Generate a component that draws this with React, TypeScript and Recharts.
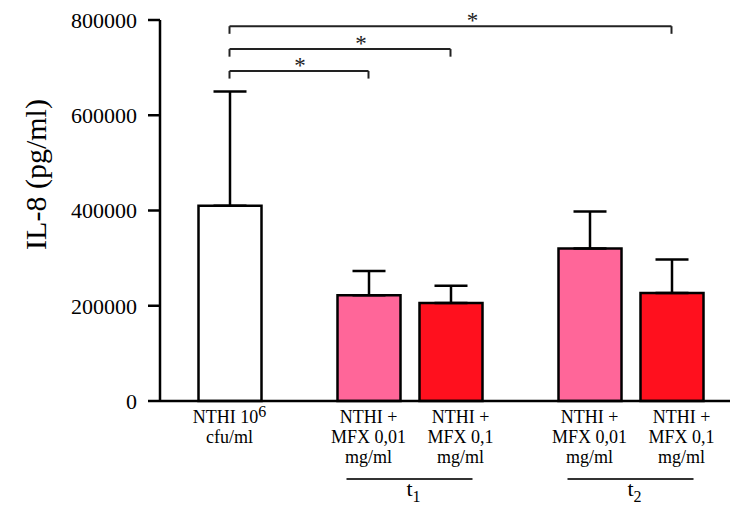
import React from "react";
import {
  BarChart,
  Bar,
  XAxis,
  YAxis,
  ErrorBar,
  Cell,
  ReferenceLine,
  ReferenceDot,
} from "recharts";

// IL-8 release, mean + SD per condition
const labelLines = [
  ["NTHI 10^6", "cfu/ml"],
  ["NTHI +", "MFX 0,01", "mg/ml"],
  ["NTHI +", "MFX 0,1", "mg/ml"],
  ["NTHI +", "MFX 0,01", "mg/ml"],
  ["NTHI +", "MFX 0,1", "mg/ml"],
];
const timePoint = ["", "t1", "t1", "t2", "t2"];
const il8Mean = [410000, 222000, 206000, 320000, 227000];
const il8Sd = [240000, 51000, 36000, 78000, 70000];
const yTicks = [0, 200000, 400000, 600000, 800000];
// significant comparisons against the control bar
const comparisons = [
  [0, 4],
  [0, 2],
  [0, 1],
];

const barFills = ["#ffffff", "#ff6699", "#ff101e", "#ff6699", "#ff101e"];
const FONT = "'Liberation Serif', 'Times New Roman', serif";

// spacing on the x axis (1 unit = 1px with the domain below)
const WITHIN_STEP = 82;
const BETWEEN_STEP = 139;
const positions = timePoint.reduce<number[]>((acc, tp, i) => {
  if (i === 0) return [0];
  const prev = acc[i - 1];
  return [...acc, prev + (tp === timePoint[i - 1] ? WITHIN_STEP : BETWEEN_STEP)];
}, []);

const rows = positions.map((pos, i) => ({
  pos,
  mean: il8Mean[i],
  err: [0, il8Sd[i]],
}));

// bracket heights and asterisk nudges
const BRACKET_Y = [787000, 739000, 693000];
const BRACKET_TIP = 16000;
const STAR_DX = [22, 21, 1];

const ConditionTick = ({ x, y, payload }: any) => {
  const i = positions.indexOf(payload.value);
  if (i < 0) return null;
  const sameGroupAsPrev = i > 0 && timePoint[i] === timePoint[i - 1];
  const cx = x + (sameGroupAsPrev ? 10 : 0);
  const startsGroup = timePoint[i] !== "" && !sameGroupAsPrev;
  const gc = x + WITHIN_STEP / 2;
  return (
    <g>
      <text textAnchor="middle" fontFamily={FONT} fontSize={18} fill="#000">
        {labelLines[i].map((line, k) => {
          const [main, sup] = line.split("^");
          return (
            <tspan key={k} x={cx} y={y + 22 + k * 20}>
              {main}
              {sup && (
                <tspan dy={-6} fontSize={16}>
                  {sup}
                </tspan>
              )}
            </tspan>
          );
        })}
      </text>
      {startsGroup && (
        <g>
          <line
            x1={gc - 63}
            x2={gc + 63}
            y1={y + 78}
            y2={y + 78}
            stroke="#333"
            strokeWidth={1.8}
          />
          <text
            x={gc + 4}
            y={y + 95}
            textAnchor="middle"
            fontFamily={FONT}
            fontSize={22}
            fill="#000"
          >
            {timePoint[i].charAt(0)}
            <tspan dy={6} fontSize={16}>
              {timePoint[i].slice(1)}
            </tspan>
          </text>
        </g>
      )}
    </g>
  );
};

const YLabel = ({ viewBox }: any) => {
  const cx = viewBox.x + 35;
  const cy = viewBox.y + viewBox.height / 2 - 36;
  return (
    <text
      x={cx}
      y={cy}
      transform={`rotate(-90 ${cx} ${cy})`}
      textAnchor="middle"
      dominantBaseline="central"
      fontFamily={FONT}
      fontSize={30}
      fill="#000"
    >
      IL-8 (pg/ml)
    </text>
  );
};

const Star = ({ cx, cy }: any) => (
  <text
    x={cx}
    y={cy + 11}
    textAnchor="middle"
    fontFamily={FONT}
    fontSize={23}
    fill="#222"
  >
    *
  </text>
);

export default function App() {
  return (
    <div style={{ position: "absolute", left: 0, top: 0, background: "#fff" }}>
      <BarChart
        width={733}
        height={507}
        data={rows}
        margin={{ top: 20, right: 3, bottom: 0, left: 0 }}
      >
        <XAxis
          type="number"
          dataKey="pos"
          domain={[-69.5, 500.5]}
          ticks={positions}
          interval={0}
          height={106}
          tickLine={false}
          tickSize={0}
          tickMargin={0}
          axisLine={{ stroke: "#000", strokeWidth: 2.5 }}
          tick={<ConditionTick />}
        />
        <YAxis
          domain={[0, 800000]}
          ticks={yTicks}
          interval={0}
          width={160}
          tickSize={12}
          tickMargin={11}
          axisLine={{ stroke: "#000", strokeWidth: 2.5 }}
          tickLine={{ stroke: "#000", strokeWidth: 2.5 }}
          tick={{ fontSize: 22, fill: "#000", fontFamily: FONT }}
          label={{ content: <YLabel /> }}
        />
        <Bar
          dataKey="mean"
          barSize={63}
          stroke="#000"
          strokeWidth={2.5}
          isAnimationActive={false}
        >
          {rows.map((_, i) => (
            <Cell key={`cell-${i}`} fill={barFills[i]} />
          ))}
          <ErrorBar
            dataKey="err"
            width={16.5}
            stroke="#000"
            strokeWidth={2.5}
            direction="y"
            isAnimationActive={false}
          />
        </Bar>
        {comparisons.map(([a, b], k) => {
          const yTop = BRACKET_Y[k];
          const xa = positions[a];
          const xb = positions[b];
          return (
            <React.Fragment key={`cmp-${k}`}>
              <ReferenceLine
                segment={[
                  { x: xa, y: yTop },
                  { x: xb, y: yTop },
                ]}
                stroke="#222"
                strokeWidth={2}
                ifOverflow="visible"
              />
              <ReferenceLine
                segment={[
                  { x: xa, y: yTop },
                  { x: xa, y: yTop - BRACKET_TIP },
                ]}
                stroke="#222"
                strokeWidth={2}
                ifOverflow="visible"
              />
              <ReferenceLine
                segment={[
                  { x: xb, y: yTop },
                  { x: xb, y: yTop - BRACKET_TIP },
                ]}
                stroke="#222"
                strokeWidth={2}
                ifOverflow="visible"
              />
              <ReferenceDot
                x={(xa + xb) / 2 + STAR_DX[k]}
                y={yTop + 19000}
                r={0}
                ifOverflow="visible"
                shape={<Star />}
              />
            </React.Fragment>
          );
        })}
      </BarChart>
    </div>
  );
}
